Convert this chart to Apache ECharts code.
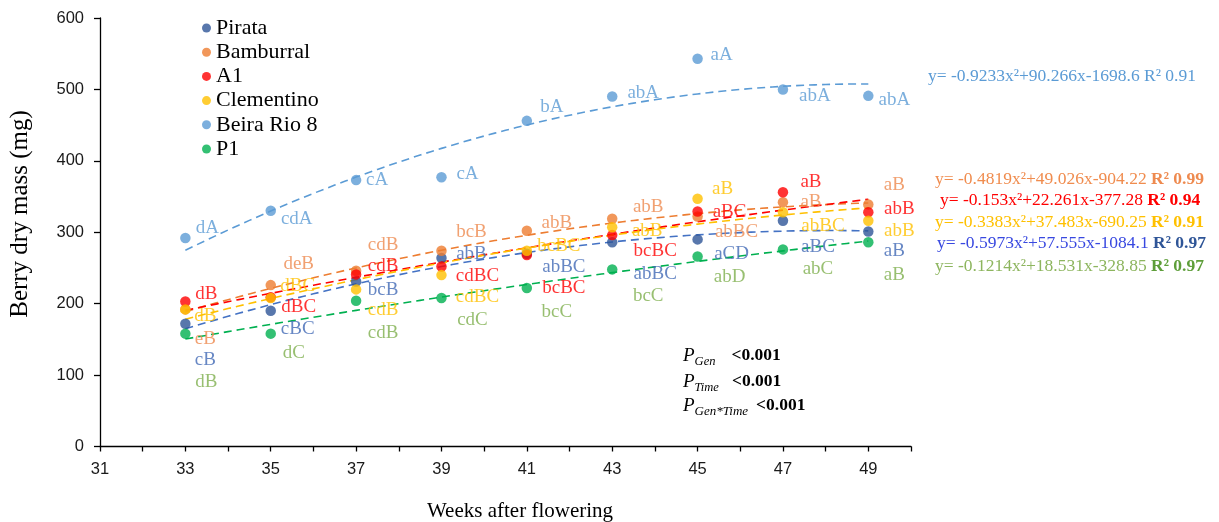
<!DOCTYPE html>
<html>
<head>
<meta charset="utf-8">
<script src="https://cdn.jsdelivr.net/npm/echarts@6/dist/echarts.min.js"></script>
<style>html,body{margin:0;padding:0;background:#fff}#c{width:1219px;height:522px}</style>
</head>
<body>
<div id="c"></div>
<script>
// ---- data ----
const weeks = [33, 35, 37, 39, 41, 43, 45, 47, 49];
const seriesNames = ["Pirata", "Bamburral", "A1", "Clementino", "Beira Rio 8", "P1"];
const pirata     = [172, 190, 231, 264, 270, 286, 290, 316, 301];
const bamburral  = [192, 226, 246, 274, 302, 319, 322, 342, 339];
const a1         = [203, 209, 241, 252, 268, 296, 329, 356, 328];
const clementino = [192, 208, 220, 240, 274, 307, 347, 328, 316];
const beiraRio8  = [292, 330, 373, 377, 456, 490, 543, 500, 491];
const p1         = [158, 158, 204, 208, 222, 248, 266, 276, 286];

const lettersPirata     = ["cB","cBC","bcB","abB","abBC","abBC","aCD","aBC","aB"];
const lettersBamburral  = ["eB","deB","cdB","bcB","abB","abB","abBC","aB","aB"];
const lettersA1         = ["dB","dBC","cdB","cdBC","bcBC","bcBC","aBC","aB","abB"];
const lettersClementino = ["dB","dBC","cdB","cdBC","bcBC","abB","aB","abBC","abB"];
const lettersBeira      = ["dA","cdA","cA","cA","bA","abA","aA","abA","abA"];
const lettersP1         = ["dB","dC","cdB","cdC","bcC","bcC","abD","abC","aB"];

// trend-line coefficients printed on the chart (a, b, c) and R²
const coefPirata     = [-0.5973, 57.555, -1084.1];
const coefBamburral  = [-0.4819, 49.026, -904.22];
const coefA1         = [-0.153, 22.261, -377.28];
const coefClementino = [-0.3383, 37.483, -690.25];
const coefBeira      = [-0.9233, 90.266, -1698.6];
const coefP1         = [-0.1214, 18.531, -328.85];
const eqPirata     = ["y= -0.5973x²+57.555x-1084.1 ", "R² 0.97"];
const eqBamburral  = ["y= -0.4819x²+49.026x-904.22 ", "R² 0.99"];
const eqA1         = ["y= -0.153x²+22.261x-377.28 ", "R² 0.94"];
const eqClementino = ["y= -0.3383x²+37.483x-690.25 ", "R² 0.91"];
const eqBeira      = ["y= -0.9233x²+90.266x-1698.6 ", "R² 0.91"];
const eqP1         = ["y= -0.1214x²+18.531x-328.85 ", "R² 0.97"];

const pSubs = ["Gen", "Time", "Gen*Time"];
const pValues = ["<0.001", "<0.001", "<0.001"];

const xTicks = [31, 33, 35, 37, 39, 41, 43, 45, 47, 49];

// ---- layout / style ----
const labelDx = {
  Pirata: [20, 27, 27, 30, 37, 43, 34, 35, 26],
  Bamburral: [20, 28, 27, 30, 30, 36, 39, 28, 26],
  A1: [21, 28, 27, 36, 37, 43, 32, 28, 31],
  Clementino: [20, 27, 27, 36, 32, 35, 25, 40, 31],
  Beira: [22, 26, 21, 26, 25, 31, 24, 32, 26],
  P1: [21, 23, 27, 31, 30, 36, 32, 35, 26]
};
const labelDy = {
  Pirata: [36, 18, 8, -4, 13.5, 32, 15, 26, 19],
  Bamburral: [29.5, -21, -26, -19, -8, -12, 15, 0, -19],
  A1: [-8, 10, -8, 9, 33, 16, 0, -10, -3],
  Clementino: [7, -12, 21, 22, -5, 4, -10, 14, 10],
  Beira: [-10, 8, 0, -3, -14, -4, -4, 7, 4],
  P1: [48, 19, 32, 22, 24, 26.5, 20, 20, 33]
};

const defs = [
  {name: seriesNames[0], key: "Pirata", vals: pirata, letters: lettersPirata, coef: coefPirata,
   color: "#2E5597", trend: "#4472C4", lab: "#4169B5"},
  {name: seriesNames[1], key: "Bamburral", vals: bamburral, letters: lettersBamburral, coef: coefBamburral,
   color: "#ED7D31", trend: "#ED7D31", lab: "#EE8A4F"},
  {name: seriesNames[2], key: "A1", vals: a1, letters: lettersA1, coef: coefA1,
   color: "#FF0000", trend: "#FF0000", lab: "#FF0000"},
  {name: seriesNames[3], key: "Clementino", vals: clementino, letters: lettersClementino, coef: coefClementino,
   color: "#FFC000", trend: "#FFC000", lab: "#FFC000"},
  {name: seriesNames[4], key: "Beira", vals: beiraRio8, letters: lettersBeira, coef: coefBeira,
   color: "#5B9BD5", trend: "#5B9BD5", lab: "#5B9BD5"},
  {name: seriesNames[5], key: "P1", vals: p1, letters: lettersP1, coef: coefP1,
   color: "#00B050", trend: "#00B050", lab: "#7EAF4E"}
];

const serif = "'Liberation Serif','Times New Roman',serif";
const sans = "'Liberation Sans Narrow','Arial Narrow','Liberation Sans',sans-serif";

const series = [];
defs.forEach(d => {
  const pts = [];
  for (let x = weeks[0]; x <= weeks[weeks.length - 1] + 1e-9; x += 0.25) {
    pts.push([x, d.coef[0] * x * x + d.coef[1] * x + d.coef[2]]);
  }
  series.push({
    type: 'line', name: d.name + ' trend', data: pts, showSymbol: false, smooth: false,
    lineStyle: {color: d.trend, width: 1.6, type: [8, 5]}, z: 1, silent: true, legendHoverLink: false
  });
});
defs.forEach(d => {
  series.push({
    type: 'scatter', name: d.name, symbol: 'circle', symbolSize: 10.5, z: 3,
    itemStyle: {color: d.color},
    label: {show: true, position: 'inside', fontFamily: serif, fontSize: 19, color: d.lab,
            textBorderWidth: 0, formatter: p => d.letters[p.dataIndex]},
    data: weeks.map((w, i) => ({value: [w, d.vals[i]],
      label: {offset: [labelDx[d.key][i], labelDy[d.key][i]]}}))
  });
});

const eqRows = [
  {eq: eqBeira, x: 928, y: 77, c: "#5B9BD5", rc: "#5B9BD5", bold: false},
  {eq: eqBamburral, x: 935, y: 180, c: "#F08C4E", rc: "#EE8A4F", bold: true},
  {eq: eqA1, x: 940, y: 201, c: "#FF0000", rc: "#FF0000", bold: true},
  {eq: eqClementino, x: 935, y: 223, c: "#FFC000", rc: "#FFC000", bold: true},
  {eq: eqPirata, x: 937, y: 244, c: "#3848E0", rc: "#2F5597", bold: true},
  {eq: eqP1, x: 935, y: 267, c: "#8DB55E", rc: "#5E9E3A", bold: true}
];

const graphics = eqRows.map(r => ({
  type: 'text', left: r.x, top: r.y - 10, z: 10,
  style: {
    text: '{e|' + r.eq[0] + '}{r|' + r.eq[1] + '}',
    rich: {
      e: {fontFamily: serif, fontSize: 17.5, fill: r.c, lineHeight: 20},
      r: {fontFamily: serif, fontSize: 17.5, fill: r.rc, fontWeight: r.bold ? 'bold' : 'normal', lineHeight: 20}
    }
  }
}));

const pLayout = [{y: 359, gap: 16, sub: 12.5}, {y: 385, gap: 13, sub: 12.5}, {y: 409, gap: 8, sub: 13}];
pSubs.forEach((s, i) => {
  graphics.push({
    type: 'text', left: 683, top: pLayout[i].y - 13, z: 10,
    style: {
      text: '{p|P}{s|' + s + '}{g| }{v|' + pValues[i] + '}',
      rich: {
        p: {fontFamily: serif, fontSize: 19, fontStyle: 'italic', fill: '#000', lineHeight: 26},
        s: {fontFamily: serif, fontSize: pLayout[i].sub, fontStyle: 'italic', fill: '#000', lineHeight: 18, verticalAlign: 'bottom'},
        g: {fontFamily: serif, fontSize: 10, lineHeight: 26, width: pLayout[i].gap},
        v: {fontFamily: serif, fontSize: 17.5, fontWeight: 'bold', fill: '#000', lineHeight: 26}
      }
    }
  });
});

graphics.push({
  type: 'text', x: 20, y: 214, rotation: Math.PI / 2, z: 10,
  style: {text: 'Berry dry mass (mg)', fontFamily: serif, fontSize: 25, fill: '#000',
          align: 'center', verticalAlign: 'middle'}
});
graphics.push({
  type: 'text', x: 520, y: 511, z: 10,
  style: {text: 'Weeks after flowering', fontFamily: serif, fontSize: 21, fill: '#000',
          align: 'center', verticalAlign: 'middle'}
});

const option = {
  animation: false,
  backgroundColor: '#fff',
  grid: {left: 100, right: 308, top: 18, bottom: 75.5, containLabel: false},
  xAxis: {
    type: 'value', min: 31, max: 50, interval: 1,
    axisLine: {lineStyle: {color: '#000', width: 1.3}},
    axisTick: {show: true, length: 5, lineStyle: {color: '#000', width: 1.3}},
    splitLine: {show: false},
    axisLabel: {fontFamily: sans, fontSize: 16.5, color: '#1a1a1a', margin: 14,
      formatter: v => xTicks.indexOf(v) >= 0 ? String(v) : ''}
  },
  yAxis: {
    type: 'value', min: 0, max: 600, interval: 100,
    axisLine: {show: true, lineStyle: {color: '#000', width: 1.3}},
    axisTick: {show: true, length: 6, lineStyle: {color: '#000', width: 1.3}},
    splitLine: {show: false},
    axisLabel: {fontFamily: sans, fontSize: 16.5, color: '#1a1a1a', margin: 16}
  },
  legend: {
    orient: 'vertical', left: 197, top: 12, itemWidth: 9, itemHeight: 9, itemGap: 2.2,
    icon: 'circle', data: seriesNames,
    textStyle: {fontFamily: serif, fontSize: 22, color: '#000', lineHeight: 22, padding: [0, 0, 0, 0]}
  },
  graphic: graphics,
  series: series
};

const chart = echarts.init(document.getElementById('c'), null, {renderer: 'canvas'});
chart.setOption(option);
</script>
</body>
</html>
